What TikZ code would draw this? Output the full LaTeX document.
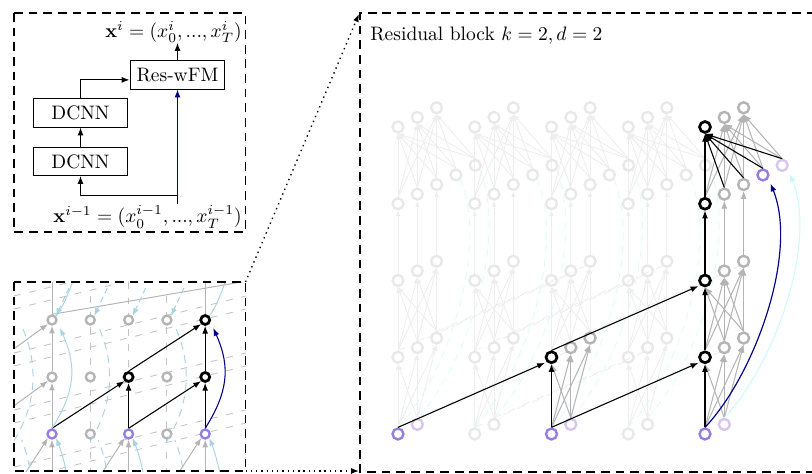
\documentclass[tikz,border=0pt]{standalone}
\usetikzlibrary{arrows.meta,backgrounds}
\definecolor{npurple}{RGB}{150,125,225}
\definecolor{nlav}{RGB}{214,198,240}
\definecolor{ngray}{RGB}{180,180,180}
\definecolor{ghostc}{RGB}{232,232,232}
\definecolor{ghoste}{RGB}{238,238,238}
\definecolor{resblue}{RGB}{0,0,139}
\definecolor{lblue}{RGB}{168,212,228}
\definecolor{lcyan}{RGB}{205,248,248}
\definecolor{gcyan}{RGB}{222,250,250}
\tikzset{
  frame/.style={dash pattern=on 4.5pt off 3pt, line width=0.6pt},
  blk/.style={draw, minimum width=48.7pt, minimum height=14.4pt, inner sep=0pt, line width=0.5pt},
  tip/.style={-{Latex[length=4pt,width=3pt]}},
  nd/.style={circle, minimum size=5.6pt, inner sep=0pt, line width=1.2pt, fill=white},
  sm/.style={minimum size=4.6pt},
  blacknd/.style={nd, draw=black, line width=1.4pt},
  graynd/.style={nd, draw=ngray},
  purplend/.style={nd, draw=npurple},
  lavnd/.style={nd, draw=nlav},
  ghostnd/.style={circle, minimum size=5.6pt, inner sep=0pt, line width=1.2pt, draw=ghostc},
  bedge/.style={tip, line width=0.55pt, draw=black},
  gedge/.style={tip, line width=0.5pt, draw=ngray},
  ghedge/.style={-{Latex[length=3pt,width=2.5pt]}, line width=0.45pt, draw=ghoste},
  ghdash/.style={line width=0.45pt, draw=ghoste, dash pattern=on 4pt off 4pt},
  cyandash/.style={line width=0.45pt, draw=gcyan, dash pattern=on 4pt off 3pt},
  bldash/.style={line width=0.45pt, draw=ngray!80, dash pattern=on 3.5pt off 4.5pt},
  lbedge/.style={tip, line width=0.5pt, draw=lblue},
  lbdash/.style={line width=0.5pt, draw=lblue, dash pattern=on 4pt off 3pt},
  dotconn/.style={dotted, line width=0.7pt, -{Latex[length=4pt,width=3pt]}},
}
\begin{document}
\begin{tikzpicture}[x=0.5128pt,y=-0.5128pt]
\useasboundingbox (0,0) rectangle (812,474);

% ---------------- top-left panel ----------------
\draw[frame] (14,13) rectangle (245.5,232);
\node[blk] (res) at (177.5,75) {Res-wFM};
\node[blk] (dcB) at (80.5,113) {DCNN};
\node[blk] (dcA) at (80.5,161.5) {DCNN};
\node[anchor=east, inner sep=1pt] (xout) at (244,32) {$\mathbf{x}^i=(x_0^i,...,x_T^i)$};
\node[anchor=east, inner sep=1pt] (xin) at (244,217) {$\mathbf{x}^{i-1}=(x_0^{i-1},...,x_T^{i-1})$};
\coordinate (split) at (177.5,195);
\coordinate (bot) at (177.5,204);
\coordinate (topc) at (177.5,43);
\draw[line width=0.5pt] (bot) -- (split);
\draw[tip, line width=0.5pt] (split) -| (dcA.south);
\draw[tip, line width=0.5pt, resblue] (split) -- (res.south);
\draw[tip, line width=0.5pt] (dcA) -- (dcB);
\draw[tip, line width=0.5pt] (dcB.north) |- ([yshift=-2.5pt]res.west);
\draw[tip, line width=0.5pt] (res.north) -- (topc);

% ---------------- bottom-left panel ----------------
\begin{scope}
\clip (14,282) rectangle (245.5,471);
\foreach \y in {296,309,353,366,410,423,467,480}
  \draw[bldash] (14,\y) -- (250,{\y-58});
\foreach \i in {1,3} {
  \draw[bldash] ({52+38.3*\i},296) -- ({52+38.3*\i},471);
}
\draw[bldash] (128.6,282) -- (128.6,370);
\draw[bldash] (128.6,441) -- (128.6,471);
\end{scope}

\foreach \i/\s in {0/purplend,1/graynd,2/purplend,3/graynd,4/purplend}
  \node[\s, sm] (b-\i-0) at ({52+38.3*\i},434) {};
\foreach \i/\s in {0/graynd,1/graynd,2/blacknd,3/graynd,4/blacknd}
  \node[\s, sm] (b-\i-1) at ({52+38.3*\i},377) {};
\foreach \i/\s in {0/graynd,1/graynd,2/graynd,3/graynd,4/blacknd}
  \node[\s, sm] (b-\i-2) at ({52+38.3*\i},320) {};

\begin{scope}
\clip (14,282) rectangle (245.5,471);
\coordinate (bm2-0) at (-24.6,434);
\coordinate (bm2-1) at (-24.6,377);
\draw[gedge] (bm2-0) -- (b-0-1.south west);
\draw[gedge] (bm2-1) -- (b-0-2.south west);
\draw[gedge] (b-0-0.north) -- (b-0-1.south);
\draw[gedge] (b-0-1.north) -- (b-0-2.south);
% into the bottom row
\foreach \i in {0,2,4} {
  \coordinate (bv-\i) at ({52+38.3*\i},495);
  \coordinate (bd-\i) at ({52+38.3*\i-38.3},491);
  \coordinate (bl-\i) at ({52+38.3*\i+18},495);
  \draw[gedge] (bv-\i) -- (b-\i-0.south);
  \draw[gedge] (bd-\i) -- (b-\i-0.south west);
  \draw[lbedge] (bl-\i) .. controls +(-2,-22) and +(5,12) .. (b-\i-0.south east);
}
\foreach \i in {-1,1,3} {
  \coordinate (bq-\i) at ({52+38.3*\i+20},495);
  \coordinate (bqe-\i) at ({52+38.3*\i+8},440);
  \draw[lbdash] (bq-\i) .. controls +(-2,-22) and +(5,12) .. (bqe-\i);
  \coordinate (bre-\i) at ({52+38.3*\i+8},326);
  \draw[lbdash] ({52+38.3*\i},441) .. controls +(22,-35) and +(18,40) .. (bre-\i);
}
% top edge
\coordinate (bt-0) at (52,262);
\coordinate (bt-4) at (205.2,262);
\coordinate (btf) at (300,272);
\draw[gedge] (b-0-2.north) -- (bt-0);
\draw[gedge] (b-4-2.north) -- (bt-4);
\draw[line width=0.5pt, ngray] (b-0-2.north) -- (btf);
\coordinate (bc-0) at (80,262);
\coordinate (bc-4) at (232,262);
\draw[line width=0.5pt, lblue] (b-0-2.north east) .. controls +(10,-12) and +(-4,10) .. (bc-0);
\draw[line width=0.5pt, lblue] (b-4-2.north east) .. controls +(10,-12) and +(-4,10) .. (bc-4);
\foreach \i in {0,1,2,3} {
  \coordinate (bs-\i) at ({52+38.3*\i+17},288);
  \draw[lbedge, dash pattern=on 3pt off 2pt] (bs-\i) -- (b-\i-2.north east);
}
\end{scope}

% edges of the active path
\draw[bedge] (b-0-0.north) -- (b-2-1.south west);
\draw[bedge] (b-2-0.north) -- (b-2-1.south);
\draw[bedge] (b-2-0.north) -- (b-4-1.south west);
\draw[bedge] (b-4-0.north) -- (b-4-1.south);
\draw[bedge] (b-2-1.north) -- (b-4-2.south west);
\draw[bedge] (b-4-1.north) -- (b-4-2.south);
\draw[lbedge] (b-0-0.north) .. controls +(22,-35) and +(18,40) .. ([xshift=2pt,yshift=-2pt]b-0-2.south east);
\draw[tip, line width=0.55pt, resblue] (b-4-0.north) .. controls +(22,-35) and +(18,40) .. ([xshift=2pt,yshift=-2pt]b-4-2.south east);

\draw[frame] (14,282) rectangle (245.5,471);

% ---------------- right panel ----------------
\draw[frame] (830,13) -- (360,13) -- (360,472) -- (830,472);
\node[anchor=base west, inner sep=0pt] (title) at (370,40) {Residual block $k=2,d=2$};

% ghost nodes
\foreach \c in {0,...,4} {
  \foreach \l/\kmax in {0/1,1/2,2/2,3/4,4/2} {
    \foreach \k in {0,...,\kmax} {
      \node[ghostnd] (r-\c-\l-\k) at ({398+76.75*\c+19.3*\k},{434-76.75*\l-9.6*\k}) {};
    }
  }
}
\begin{scope}[on background layer]
\foreach \c in {0,...,4} {
  \foreach \a in {0,1} {\foreach \b in {0,1,2} {\draw[ghedge] (r-\c-0-\a.north) -- (r-\c-1-\b.south);}}
  \foreach \a in {0,1,2} {\foreach \b in {0,1,2} {\draw[ghedge] (r-\c-1-\a.north) -- (r-\c-2-\b.south);}}
  \foreach \a in {0,1,2} {\draw[ghedge] (r-\c-2-\a.north) -- (r-\c-3-\a.south);}
  \foreach \a in {0,...,4} {\foreach \b in {0,1,2} {\draw[ghedge] (r-\c-3-\a.north) -- (r-\c-4-\b.south);}}
}
\foreach \c/\p in {2/0,3/1,4/2} {
  \foreach \k in {0,1} {\draw[ghdash] (r-\p-0-\k.north) -- (r-\c-1-\k.south west);}
  \foreach \k in {0,1,2} {\draw[ghdash] (r-\p-1-\k.north) -- (r-\c-2-\k.south west);}
}
\foreach \c in {0,...,3} {
  \draw[cyandash] (r-\c-0-0.north) .. controls +(50,-53) and +(28,69) .. (r-\c-3-3.south east);
  \draw[cyandash] (r-\c-0-1.north) .. controls +(50,-53) and +(28,69) .. (r-\c-3-4.south east);
}
\end{scope}

% active nodes
\foreach \c in {0,2,4} {
  \node[purplend] (r-\c-0-0) at ({398+76.75*\c},434) {};
  \node[lavnd] (r-\c-0-1) at ({398+76.75*\c+19.3},{434-9.6}) {};
}
\foreach \c/\l in {2/1,4/1,4/2,4/3,4/4} {
  \node[blacknd] (r-\c-\l-0) at ({398+76.75*\c},{434-76.75*\l}) {};
  \foreach \k in {1,2} {
    \node[graynd] (r-\c-\l-\k) at ({398+76.75*\c+19.3*\k},{434-76.75*\l-9.6*\k}) {};
  }
}
\node[purplend] (r-4-3-3) at ({398+76.75*4+19.3*3},{434-76.75*3-9.6*3}) {};
\node[lavnd] (r-4-3-4) at ({398+76.75*4+19.3*4},{434-76.75*3-9.6*4}) {};

% active gray edges
\foreach \c in {2,4} {
  \foreach \a/\b in {0/1,0/2,1/0,1/1,1/2} {\draw[gedge] (r-\c-0-\a.north) -- (r-\c-1-\b.south);}
}
\foreach \a/\b in {0/1,0/2,1/0,1/1,1/2,2/0,2/1,2/2} {\draw[gedge] (r-4-1-\a.north) -- (r-4-2-\b.south);}
\foreach \a in {1,2} {\draw[gedge] (r-4-2-\a.north) -- (r-4-3-\a.south);}
\foreach \a in {0,...,4} {\foreach \b in {1,2} {\draw[gedge] (r-4-3-\a.north) -- (r-4-4-\b.south);}}

% light cyan residual
\draw[tip, line width=0.5pt, lcyan] (r-4-0-1.north) .. controls +(50,-53) and +(28,69) .. ([xshift=1.5pt,yshift=-2pt]r-4-3-4.south east);

% black edges
\draw[bedge, shorten >=1pt] (r-0-0-0.north) -- (r-2-1-0.south west);
\draw[bedge] (r-2-0-0.north) -- (r-2-1-0.south);
\draw[bedge, shorten >=1pt] (r-2-0-0.north) -- (r-4-1-0.south west);
\draw[bedge] (r-4-0-0.north) -- (r-4-1-0.south);
\draw[bedge, shorten >=1pt] (r-2-1-0.north) -- (r-4-2-0.south west);
\draw[bedge] (r-4-1-0.north) -- (r-4-2-0.south);
\draw[bedge] (r-4-2-0.north) -- (r-4-3-0.south);
\foreach \a in {0,...,4} {\draw[bedge] (r-4-3-\a.north) -- (r-4-4-0.south);}

% residual connection
\draw[tip, line width=0.6pt, resblue] (r-4-0-0.north) .. controls +(50,-53) and +(28,69) .. ([xshift=1.5pt,yshift=-2pt]r-4-3-3.south east);

% zoom connectors
\coordinate (blTR) at (245.5,282);
\coordinate (rTL) at (359,14);
\coordinate (blBR) at (245.5,471);
\coordinate (rBL) at (359,471);
\draw[dotconn] (blTR) -- (rTL);
\draw[dotconn] (blBR) -- (rBL);
\end{tikzpicture}
\end{document}
